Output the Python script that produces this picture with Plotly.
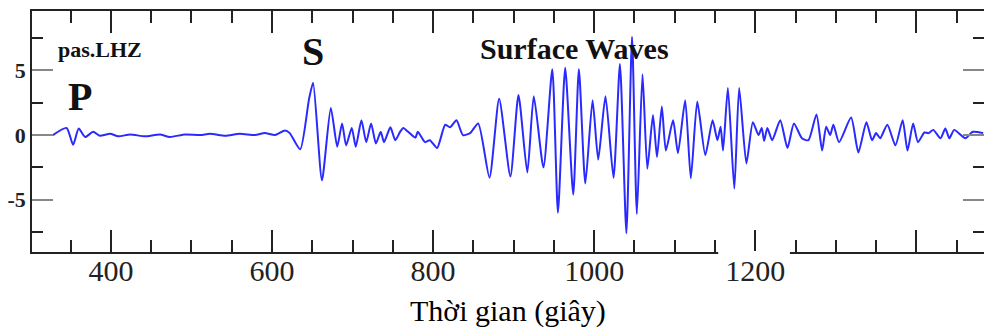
import plotly.graph_objects as go

# Seismogram trace (time in s, amplitude)
time_s = [328, 345, 353, 360, 368, 378, 386, 399, 409, 424, 442, 461, 473, 492, 511, 523, 542, 560,
          579, 591, 604, 616, 622, 635, 646, 651, 662, 673, 681, 687, 692, 699, 704, 711, 717, 723,
          729, 735, 739, 747, 753, 759, 763, 769, 778, 781, 790, 796, 805, 815, 821, 829, 837, 846,
          856, 870, 882, 896, 906, 917, 925, 937, 948, 955, 964, 974, 981, 989, 998, 1005, 1014,
          1024, 1032, 1040, 1047, 1053, 1060, 1066, 1073, 1078, 1084, 1089, 1098, 1104, 1113, 1120,
          1128, 1138, 1147, 1153, 1157, 1160, 1166, 1174, 1180, 1189, 1197, 1204, 1208, 1211, 1215,
          1221, 1231, 1240, 1248, 1258, 1266, 1276, 1283, 1288, 1293, 1297, 1304, 1319, 1328, 1338,
          1345, 1350, 1355, 1364, 1374, 1383, 1389, 1396, 1402, 1410, 1415, 1421, 1430, 1436, 1441,
          1447, 1461, 1470, 1483]
amplitude = [0.0, 0.55, -0.75, 0.5, -0.15, 0.25, -0.05, 0.1, -0.1, 0.05, -0.1, 0.05, -0.15, 0.05,
             0.0, 0.1, -0.05, 0.1, 0.0, 0.15, 0.0, 0.35, 0.15, -1.1, 2.8, 4.05, -3.5, 2.1, -0.9,
             0.9, -0.8, 0.55, -0.9, 1.15, -0.55, 0.9, -0.65, 0.25, -0.55, 0.6, -0.4, 0.25, 0.55,
             0.25, -0.2, 0.25, -0.55, -0.4, -1.0, 0.8, 0.6, 1.15, 0.0, 0.15, 0.9, -3.3, 2.8, -3.2,
             3.1, -2.9, 3.0, -2.5, 5.1, -6.0, 5.2, -4.6, 5.1, -3.75, 2.7, -1.9, 3.0, -3.3, 5.5,
             -7.6, 7.6, -6.1, 4.7, -2.6, 1.55, -1.7, 2.2, -1.2, 1.15, -1.4, 2.7, -3.35, 2.6, -1.55,
             1.15, -0.4, 0.65, -1.2, 3.65, -4.15, 3.65, -2.2, 1.0, 0.0, 0.55, -0.45, 0.55, -0.4,
             1.15, -1.0, 0.9, -0.25, -0.4, 1.6, -1.2, 0.65, 0.0, 0.8, -0.55, 1.35, -1.35, 1.0, -0.4,
             0.15, -0.25, 0.8, -0.8, 1.15, -1.2, 0.9, -0.55, 0.2, 0.15, 0.4, -0.25, 0.5, -0.25, 0.4,
             -0.25, 0.25, 0.15]

x_major = [400, 600, 800, 1000, 1200, 1400]
x_labels = ["400", "600", "800", "1000", "1200", ""]
x_minor = [350, 450, 500, 550, 650, 700, 750, 850, 900, 950, 1050, 1100, 1150, 1250, 1300, 1350, 1450]
y_major = [-5, 0, 5]
y_labels = ["-5", "0", "5"]
y_minor = [-7.5, -2.5, 2.5, 7.5]

x_title = "Thời gian (giây)"
labels = [("pas.LHZ", 386, 6.6, 22), ("P", 361, 2.95, 40), ("S", 651, 6.45, 40),
          ("Surface Waves", 976, 6.67, 30)]

SERIF = "Liberation Serif, Times New Roman, serif"

fig = go.Figure()
fig.add_trace(go.Scatter(x=time_s, y=amplitude, mode="lines",
                         line=dict(color="#2a2aff", width=2, shape="spline", smoothing=0.6),
                         hoverinfo="skip", showlegend=False))

for text, xv, yv, size in labels:
    fig.add_annotation(x=xv, y=yv, xref="x", yref="y", text=text, showarrow=False,
                       font=dict(family=SERIF, size=size, color="#111", weight="bold"))

# x-axis title placed under the tick labels
fig.add_annotation(x=0.5, y=-0.167, xref="paper", yref="paper", text=x_title, showarrow=False,
                   xanchor="center", yanchor="top",
                   font=dict(family=SERIF, size=30, color="#000"))

# gap in the bottom axis line under the "1200" label
fig.add_shape(type="rect", xref="x", yref="paper", x0=1154, x1=1243, y0=-0.012, y1=0.004,
              line=dict(width=0), fillcolor="white", layer="above")

fig.update_layout(
    width=984, height=329,
    margin=dict(l=32, r=0, t=11, b=77),
    paper_bgcolor="white", plot_bgcolor="white",
    xaxis=dict(range=[302, 1484], tickmode="array", tickvals=x_major, ticktext=x_labels,
               ticks="inside", ticklen=22, tickwidth=1.5, tickcolor="#222",
               showline=True, linecolor="#222", linewidth=1.5, mirror="ticks",
               showgrid=False, zeroline=False, automargin=False, ticklabelstandoff=-9,
               tickfont=dict(family=SERIF, size=30, color="#222"),
               minor=dict(tickmode="array", tickvals=x_minor, ticks="inside", ticklen=12,
                          tickwidth=1.5, tickcolor="#222", showgrid=False)),
    yaxis=dict(range=[-9.05, 9.6], tickmode="array", tickvals=y_major, ticktext=y_labels,
               ticks="inside", ticklen=21, tickwidth=2, tickcolor="#888",
               showline=True, linecolor="#222", linewidth=1.5, mirror="ticks",
               showgrid=False, zeroline=False, automargin=False,
               tickfont=dict(family=SERIF, size=22, color="#222", weight="bold"),
               minor=dict(tickmode="array", tickvals=y_minor, ticks="inside", ticklen=11,
                          tickwidth=1.5, tickcolor="#222", showgrid=False)),
)

fig.write_html("out.html", config={"displayModeBar": False},
               post_script="document.body.style.margin='0';document.body.style.overflow='hidden';")
